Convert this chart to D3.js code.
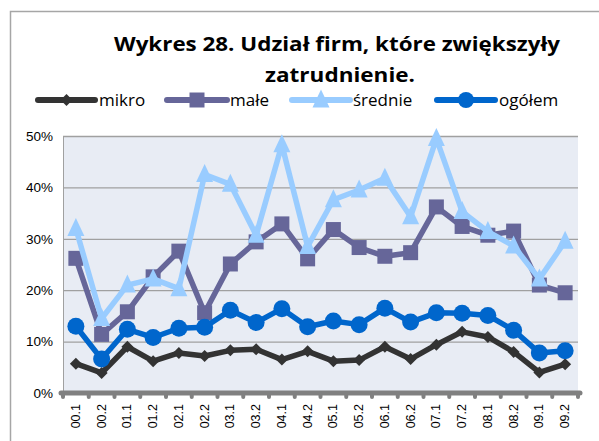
<!DOCTYPE html>
<html>
<head>
    <meta charset="utf-8">
    <title>Wykres 28</title>
    <script src="https://d3js.org/d3.v7.min.js"></script>
    <style>
        body { margin: 0; background: #fff; }
        svg { display: block; }
    </style>
</head>
<body>
    <svg width="599" height="441"></svg>

    <script>
        // Half-year periods
        var periods = ["00.1", "00.2", "01.1", "01.2", "02.1", "02.2", "03.1", "03.2", "04.1", "04.2",
                       "05.1", "05.2", "06.1", "06.2", "07.1", "07.2", "08.1", "08.2", "09.1", "09.2"];

        // Share of firms (%) per series
        var mikro   = [5.7, 3.9, 9.0, 6.2, 7.8, 7.2, 8.3, 8.5, 6.5, 8.1, 6.2, 6.4, 9.0, 6.6, 9.4, 11.9, 10.9, 8.0, 4.0, 5.6];
        var male    = [26.2, 11.4, 15.8, 22.6, 27.6, 15.6, 25.1, 29.4, 32.9, 26.1, 31.8, 28.3, 26.6, 27.3, 36.2, 32.4, 30.7, 31.5, 21.0, 19.5];
        var srednie = [32.0, 14.5, 21.0, 22.2, 20.3, 42.5, 40.6, 30.7, 48.3, 28.5, 37.6, 39.5, 41.8, 34.3, 49.5, 35.3, 31.4, 28.6, 22.2, 29.5];
        var ogolem  = [13.0, 6.6, 12.4, 10.8, 12.6, 12.8, 16.1, 13.7, 16.4, 12.9, 14.0, 13.3, 16.5, 13.8, 15.6, 15.5, 15.1, 12.2, 7.8, 8.2];

        var yTicks = [0, 10, 20, 30, 40, 50];

        var series = [
            {name: "mikro",   values: mikro,   color: "#333333", marker: "diamond"},
            {name: "małe",    values: male,    color: "#666699", marker: "square"},
            {name: "średnie", values: srednie, color: "#99CCFF", marker: "triangle"},
            {name: "ogółem",  values: ogolem,  color: "#0066CC", marker: "circle"}
        ];

        var plot = {left: 63, top: 136, right: 578, bottom: 393};

        var svg = d3.select("svg");

        // outer chart frame
        svg.append("rect")
            .attr("x", 10.5).attr("y", 11.5)
            .attr("width", 620).attr("height", 460)
            .attr("fill", "none")
            .attr("stroke", "#a6a6a6")
            .attr("stroke-width", 1.5);

        // title
        var title = svg.append("text")
            .attr("font-family", "Open Sans, sans-serif")
            .attr("font-weight", "bold")
            .attr("font-size", 19)
            .attr("fill", "#000");
        title.append("tspan").attr("x", 337).attr("y", 51)
            .attr("text-anchor", "middle")
            .attr("textLength", 446).attr("lengthAdjust", "spacingAndGlyphs")
            .text("Wykres 28. Udział firm, które zwiększyły");
        title.append("tspan").attr("x", 340).attr("y", 82)
            .attr("text-anchor", "middle")
            .attr("textLength", 150).attr("lengthAdjust", "spacingAndGlyphs")
            .text("zatrudnienie.");

        // scales
        var x = d3.scaleBand().domain(periods).range([plot.left, plot.right]);
        var y = d3.scaleLinear().domain([0, 50]).range([plot.bottom, plot.top]);

        // plot background
        svg.append("rect")
            .attr("x", plot.left).attr("y", plot.top)
            .attr("width", plot.right - plot.left)
            .attr("height", plot.bottom - plot.top)
            .attr("fill", "#e8ecf4");

        // gridlines + y labels
        var yAxis = svg.append("g")
            .attr("transform", "translate(" + plot.left + ",0)")
            .call(d3.axisLeft(y).tickValues(yTicks)
                .tickSize(-(plot.right - plot.left))
                .tickPadding(10)
                .tickFormat(function(d) { return d + "%"; }));
        yAxis.select(".domain").attr("stroke", "#a0a0a0");
        yAxis.selectAll(".tick line").attr("stroke", "#a0a0a0").attr("stroke-width", 1.3);
        yAxis.selectAll(".tick text")
            .attr("font-family", "Liberation Sans, Arial, sans-serif")
            .attr("font-size", 13.5)
            .attr("fill", "#000");

        // x axis labels
        var xAxis = svg.append("g")
            .attr("transform", "translate(0," + plot.bottom + ")")
            .call(d3.axisBottom(x).tickSize(0).tickPadding(0));
        xAxis.select(".domain").remove();
        xAxis.selectAll(".tick text")
            .attr("font-family", "Liberation Sans, Arial, sans-serif")
            .attr("font-size", 12.5)
            .attr("fill", "#000")
            .attr("transform", "translate(4,11) rotate(-90)")
            .attr("text-anchor", "end")
            .attr("dy", 0);

        // thick axis line with rounded tick marks at category borders
        var boundaries = periods.map(function(p) { return x(p); }).concat([plot.right]);
        svg.append("g").selectAll("line")
            .data(boundaries)
            .enter().append("line")
            .attr("x1", function(d) { return d; })
            .attr("x2", function(d) { return d; })
            .attr("y1", plot.bottom)
            .attr("y2", plot.bottom + 4)
            .attr("stroke", "#808080")
            .attr("stroke-width", 4)
            .attr("stroke-linecap", "round");
        svg.append("line")
            .attr("x1", plot.left - 2).attr("x2", plot.right + 2)
            .attr("y1", plot.bottom).attr("y2", plot.bottom)
            .attr("stroke", "#808080")
            .attr("stroke-width", 5)
            .attr("stroke-linecap", "round");

        // marker shapes (circle handled separately)
        function markerPath(type, cx, cy) {
            if (type === "diamond") {
                var r = 6;
                return "M" + cx + "," + (cy - r) + "L" + (cx + r) + "," + cy + "L" + cx + "," + (cy + r) + "L" + (cx - r) + "," + cy + "Z";
            }
            if (type === "square") {
                var s = 7.5;
                return "M" + (cx - s) + "," + (cy - s) + "h" + (2 * s) + "v" + (2 * s) + "h" + (-2 * s) + "Z";
            }
            var h = 8.5;
            return "M" + cx + "," + (cy - h - 2) + "L" + (cx + h) + "," + (cy + h - 1) + "L" + (cx - h) + "," + (cy + h - 1) + "Z";
        }

        var cxOf = function(i) { return x(periods[i]) + x.bandwidth() / 2; };

        var line = d3.line()
            .x(function(d, i) { return cxOf(i); })
            .y(function(d) { return y(d); });

        series.forEach(function(s) {
            var g = svg.append("g");
            g.append("path")
                .datum(s.values)
                .attr("d", line)
                .attr("fill", "none")
                .attr("stroke", s.color)
                .attr("stroke-width", 5.5)
                .attr("stroke-linejoin", "round");
            if (s.marker === "circle") {
                g.selectAll("circle")
                    .data(s.values)
                    .enter().append("circle")
                    .attr("cx", function(d, i) { return cxOf(i); })
                    .attr("cy", function(d) { return y(d); })
                    .attr("r", 8.5)
                    .attr("fill", s.color);
            } else {
                g.selectAll("path.m")
                    .data(s.values)
                    .enter().append("path")
                    .attr("class", "m")
                    .attr("d", function(d, i) { return markerPath(s.marker, cxOf(i), y(d)); })
                    .attr("fill", s.color);
            }
        });

        // legend
        var legendItems = [
            {x1: 38,  x2: 95,  tx: 99},
            {x1: 167, x2: 227, tx: 230},
            {x1: 292, x2: 350, tx: 353},
            {x1: 437, x2: 495, tx: 499}
        ];
        var ly = 100;
        legendItems.forEach(function(it, k) {
            var s = series[k];
            var g = svg.append("g");
            g.append("line")
                .attr("x1", it.x1).attr("x2", it.x2)
                .attr("y1", ly).attr("y2", ly)
                .attr("stroke", s.color)
                .attr("stroke-width", 6)
                .attr("stroke-linecap", "round");
            var cx = (it.x1 + it.x2) / 2;
            if (s.marker === "circle") {
                g.append("circle").attr("cx", cx).attr("cy", ly).attr("r", 8).attr("fill", s.color);
            } else {
                g.append("path").attr("d", markerPath(s.marker, cx, ly)).attr("fill", s.color);
            }
            g.append("text")
                .attr("x", it.tx).attr("y", ly + 6)
                .attr("font-family", "Open Sans, sans-serif")
                .attr("font-size", 17)
                .attr("fill", "#000")
                .text(s.name);
        });
    </script>
</body>
</html>
